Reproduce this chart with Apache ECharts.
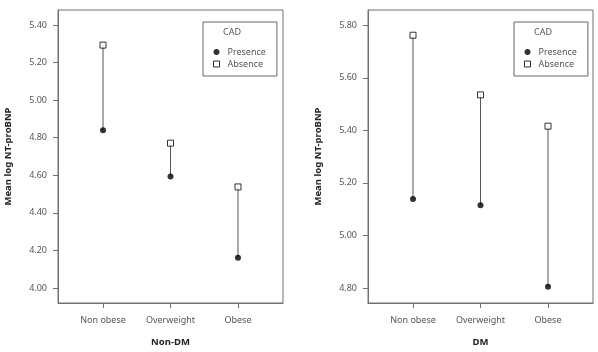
<!DOCTYPE html>
<html><head><meta charset="utf-8">
<script src="https://cdn.jsdelivr.net/npm/echarts@6/dist/echarts.min.js"></script>
<style>html,body{margin:0;padding:0;background:#fff}#c{width:598px;height:352px}</style>
</head><body><div id="c"></div>
<script>
const categories = ["Non obese", "Overweight", "Obese"];
const nonDmPresence = [4.84, 4.593, 4.161];
const nonDmAbsence = [5.293, 4.771, 4.538];
const dmPresence = [5.139, 5.115, 4.805];
const dmAbsence = [5.762, 5.535, 5.416];
const nonDmTicks = [4.0, 4.2, 4.4, 4.6, 4.8, 5.0, 5.2, 5.4];
const dmTicks = [4.8, 5.0, 5.2, 5.4, 5.6, 5.8];
const panelNames = ["Non-DM", "DM"];
const legendTitle = "CAD";
const seriesNames = ["Presence", "Absence"];

const FONT = "Noto Sans";
const axisColor = "#707070";
const catIdx = categories.map((c, i) => i);

function xAxis(gi) {
  return {
    type: "value", gridIndex: gi, min: -0.667, max: 2.667,
    name: panelNames[gi], nameLocation: "middle", nameGap: 34,
    nameTextStyle: {fontFamily: FONT, fontSize: 9.5, fontWeight: "bold", color: "#222"},
    axisLine: {show: true, onZero: false, lineStyle: {color: axisColor}},
    axisTick: {show: true, customValues: catIdx, length: 5, lineStyle: {color: axisColor}},
    axisLabel: {customValues: catIdx, formatter: v => categories[Math.round(v)], fontFamily: FONT, fontSize: 9, color: "#555", margin: 13},
    splitLine: {show: false}
  };
}
function yAxis(gi, ticks, min, max) {
  return {
    type: "value", gridIndex: gi, min: min, max: max,
    name: "Mean log NT-proBNP", nameLocation: "middle", nameGap: 45, nameRotate: 90,
    nameTextStyle: {fontFamily: FONT, fontSize: 9.5, fontWeight: "bold", color: "#222"},
    axisLine: {show: true, onZero: false, lineStyle: {color: axisColor}},
    axisTick: {show: true, customValues: ticks, length: 5, lineStyle: {color: axisColor}},
    axisLabel: {customValues: ticks, formatter: v => v.toFixed(2), fontFamily: FONT, fontSize: 9, color: "#555", margin: 11},
    splitLine: {show: false}
  };
}
function rangeSeries(gi, pres, abs) {
  return {
    type: "custom", xAxisIndex: gi, yAxisIndex: gi, silent: true, z: 1,
    data: catIdx.map(i => [i, pres[i], abs[i]]),
    encode: {x: 0, y: [1, 2]},
    renderItem: (params, api) => {
      const p1 = api.coord([api.value(0), api.value(1)]);
      const p2 = api.coord([api.value(0), api.value(2)]);
      return {type: "line", shape: {x1: p1[0], y1: p1[1], x2: p2[0], y2: p2[1]}, style: {stroke: "#555", lineWidth: 1}};
    }
  };
}
function pointSeries(gi, name, vals, symbol) {
  return {
    type: "scatter", name: name, xAxisIndex: gi, yAxisIndex: gi, z: 3,
    data: catIdx.map(i => [i, vals[i]]),
    symbol: symbol, symbolSize: 6,
    itemStyle: symbol === "circle" ? {color: "#000"} : {color: "#fff", borderColor: "#000", borderWidth: 1}
  };
}
function legend(left) {
  return {
    left: left, top: 22, orient: "vertical", data: [
      {name: seriesNames[0], icon: "circle", itemStyle: {color: "#000"}},
      {name: seriesNames[1], icon: "rect", itemStyle: {color: "#fff", borderColor: "#000", borderWidth: 1}}
    ],
    itemWidth: 6, itemHeight: 6, itemGap: 2,
    padding: [25, 11, 7, 10], borderColor: "#666", borderWidth: 1,
    textStyle: {fontFamily: FONT, fontSize: 9, lineHeight: 10, color: "#555", padding: [0, 0, 0, 3]},
    selectedMode: false
  };
}

const option = {
  animation: false,
  backgroundColor: "#fff",
  grid: [
    {left: 58, right: 315, top: 10, bottom: 41, show: true, borderColor: axisColor, borderWidth: 1},
    {left: 368, right: 5, top: 10, bottom: 41, show: true, borderColor: axisColor, borderWidth: 1}
  ],
  xAxis: [xAxis(0), xAxis(1)],
  yAxis: [yAxis(0, nonDmTicks, 3.92, 5.48), yAxis(1, dmTicks, 4.743, 5.858)],
  legend: [legend(203), legend(514)],
  title: [
    {text: legendTitle, left: 223, top: 28, padding: 0, textStyle: {fontFamily: FONT, fontSize: 9, fontWeight: "normal", color: "#555"}},
    {text: legendTitle, left: 534, top: 28, padding: 0, textStyle: {fontFamily: FONT, fontSize: 9, fontWeight: "normal", color: "#555"}}
  ],
  series: [
    rangeSeries(0, nonDmPresence, nonDmAbsence),
    pointSeries(0, seriesNames[0], nonDmPresence, "circle"),
    pointSeries(0, seriesNames[1], nonDmAbsence, "rect"),
    rangeSeries(1, dmPresence, dmAbsence),
    pointSeries(1, seriesNames[0], dmPresence, "circle"),
    pointSeries(1, seriesNames[1], dmAbsence, "rect")
  ]
};
const chart = echarts.init(document.getElementById("c"), null, {renderer: "canvas"});
chart.setOption(option);
</script></body></html>
